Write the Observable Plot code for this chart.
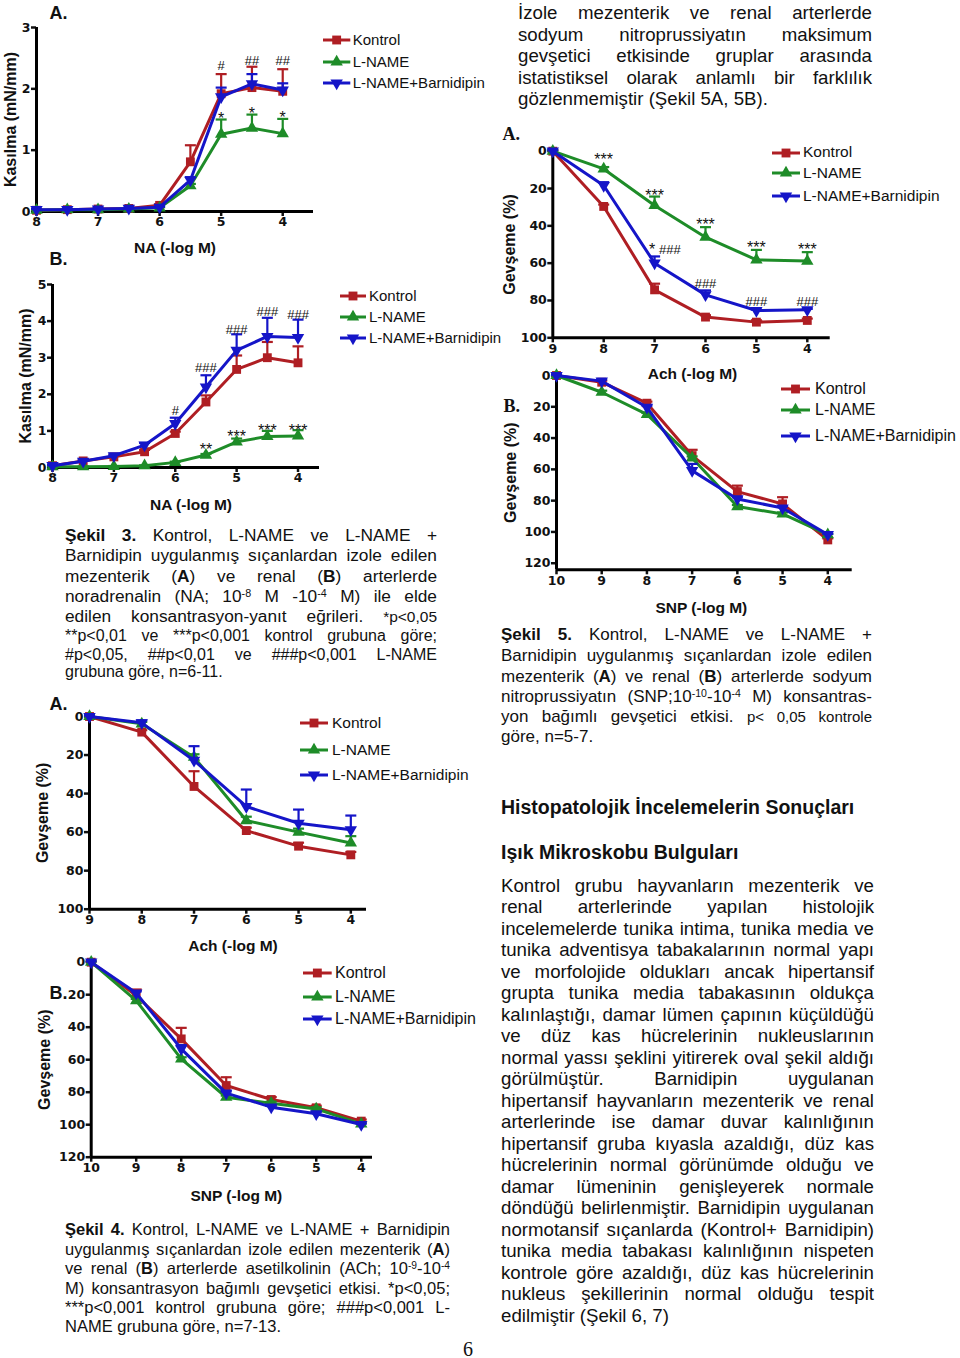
<!DOCTYPE html>
<html><head><meta charset="utf-8">
<script src="https://cdn.jsdelivr.net/npm/d3@7"></script>
<script src="https://cdn.jsdelivr.net/npm/@observablehq/plot@0.6"></script>
<style>
html,body{margin:0;padding:0;background:#fff;}
body{width:960px;height:1358px;position:relative;overflow:hidden;font-family:"Liberation Sans",Arial,sans-serif;color:#111;}
.ln{position:absolute;white-space:nowrap;}
sup{font-size:0.62em;vertical-align:0.5em;line-height:0;}
svg{overflow:visible;}
</style></head><body>
<script>
// ---------- data ----------
const SERIES = ["Kontrol", "L-NAME", "L-NAME+Barnidipin"];
const COLORS = ["#AF1E23", "#1E8C28", "#1515C8"];
const SYMBOLS = ["square", "triangle", "triangle"];
const ROTATE = [0, 0, 180];

const naDoses = [8, 7.5, 7, 6.5, 6, 5.5, 5, 4.5, 4];
const achDoses = [9, 8, 7, 6, 5, 4];
const snpDoses = [10, 9, 8, 7, 6, 5, 4];

// Fig 3A - mesenteric, NA contraction (mN/mm)
const f3aKontrol = [0.02, 0.03, 0.04, 0.05, 0.10, 0.81, 1.92, 2.02, 1.96];
const f3aKontrolSem = [0.01, 0.01, 0.01, 0.01, 0.02, 0.27, 0.32, 0.34, 0.36];
const f3aLname = [0.02, 0.03, 0.03, 0.04, 0.06, 0.42, 1.26, 1.36, 1.27];
const f3aLnameSem = [0.01, 0.01, 0.01, 0.01, 0.01, 0.03, 0.24, 0.22, 0.24];
const f3aBarn = [0.03, 0.03, 0.04, 0.05, 0.07, 0.51, 1.87, 2.08, 1.98];
const f3aBarnSem = [0.01, 0.01, 0.01, 0.01, 0.01, 0.05, 0.15, 0.16, 0.11];
const f3aSig = [
  {x: 5, y: 2.38, label: "#"}, {x: 4.5, y: 2.46, label: "##"}, {x: 4, y: 2.46, label: "##"},
  {x: 5, y: 1.51, label: "*"}, {x: 4.5, y: 1.59, label: "*"}, {x: 4, y: 1.52, label: "*"}
];

// Fig 3B - renal, NA contraction (mN/mm)
const f3bKontrol = [0.05, 0.18, 0.29, 0.43, 0.93, 1.79, 2.68, 3.00, 2.86];
const f3bKontrolSem = [0.02, 0.03, 0.04, 0.05, 0.05, 0.18, 0.38, 0.43, 0.45];
const f3bLname = [0.02, 0.02, 0.03, 0.05, 0.14, 0.34, 0.70, 0.85, 0.86];
const f3bLnameSem = [0.01, 0.01, 0.01, 0.01, 0.02, 0.03, 0.09, 0.15, 0.16];
const f3bBarn = [0.05, 0.17, 0.32, 0.61, 1.20, 2.20, 3.20, 3.58, 3.55];
const f3bBarnSem = [0.01, 0.02, 0.03, 0.06, 0.16, 0.32, 0.44, 0.51, 0.49];
const f3bSig = [
  {x: 6, y: 1.56, label: "#"}, {x: 5.5, y: 2.73, label: "###"}, {x: 5, y: 3.76, label: "###"},
  {x: 4.5, y: 4.24, label: "###"}, {x: 4, y: 4.18, label: "###"},
  {x: 5.5, y: 0.47, label: "**"}, {x: 5, y: 0.83, label: "***"}, {x: 4.5, y: 1.01, label: "***"}, {x: 4, y: 1.01, label: "***"}
];

// Fig 4A - mesenteric, ACh relaxation (%)
const f4aKontrol = [0, 8.1, 36.3, 59.2, 67.3, 71.8];
const f4aKontrolSem = [0.5, 1.0, 7.9, 1.5, 1.8, 1.5];
const f4aLname = [0, 3.8, 21.1, 54.0, 60.0, 65.6];
const f4aLnameSem = [0.5, 1.0, 1.5, 2.0, 1.8, 3.5];
const f4aBarn = [0, 3.3, 22.8, 46.7, 55.4, 58.8];
const f4aBarnSem = [0.5, 1.3, 7.4, 8.8, 7.1, 7.4];

// Fig 4B - renal relaxation (%)
const f4bKontrol = [0, 20.5, 47.2, 75.9, 84.5, 89.6, 97.8];
const f4bKontrolSem = [0.5, 3.7, 6.8, 5.1, 1.5, 1.3, 1.0];
const f4bLname = [0, 23.6, 59.5, 83.1, 86.8, 90.3, 99.5];
const f4bLnameSem = [0.5, 1.0, 1.0, 1.0, 1.0, 1.0, 0.5];
const f4bBarn = [0, 19.0, 53.3, 80.6, 89.2, 93.3, 99.9];
const f4bBarnSem = [0.5, 1.0, 2.3, 1.0, 1.0, 1.0, 0.5];

// Fig 5A - mesenteric relaxation (%)
const f5aKontrol = [0, 29.6, 74.3, 88.9, 91.6, 90.7];
const f5aKontrolSem = [0.5, 1.0, 3.3, 1.0, 1.0, 1.0];
const f5aLname = [0, 9.5, 29.1, 46.1, 58.2, 58.9];
const f5aLnameSem = [0.5, 1.0, 4.8, 5.4, 5.3, 4.8];
const f5aBarn = [0, 18.4, 60.0, 77.0, 85.4, 85.0];
const f5aBarnSem = [0.5, 1.8, 3.6, 2.4, 0.5, 0.5];
const f5aSig = [
  {x: 8, y: 4.7, label: "***"}, {x: 7, y: 23.8, label: "***"}, {x: 6, y: 39.5, label: "***"},
  {x: 5, y: 51.9, label: "***"}, {x: 4, y: 52.9, label: "***"},
  {x: 7.05, y: 52.9, label: "*"}, {x: 6.70, y: 53.1, label: "###"},
  {x: 6, y: 71.0, label: "###"}, {x: 5, y: 80.9, label: "###"}, {x: 4, y: 80.9, label: "###"}
];

// Fig 5B - renal, SNP relaxation (%)
const f5bKontrol = [0, 4.3, 17.7, 51.2, 74.2, 82.1, 105.1];
const f5bKontrolSem = [0.5, 1.0, 1.0, 3.7, 3.8, 4.3, 1.0];
const f5bLname = [0, 10.7, 24.9, 52.7, 83.8, 88.5, 101.7];
const f5bLnameSem = [0.5, 1.0, 1.0, 1.0, 1.0, 1.0, 0.5];
const f5bBarn = [0, 3.6, 20.3, 60.8, 78.9, 84.7, 101.7];
const f5bBarnSem = [0.5, 1.0, 1.0, 4.3, 1.0, 1.0, 0.5];

const naTicks = [8, 7, 6, 5, 4];
const achTicks = [9, 8, 7, 6, 5, 4];
const snpTicks = [10, 9, 8, 7, 6, 5, 4];

// ---------- helpers ----------
const capSymbol = {draw(ctx, size) { const r = Math.sqrt(size / Math.PI); ctx.moveTo(-r, 0); ctx.lineTo(r, 0); }};
const LAB = "Liberation Sans";

function makeChart(c) {
  const dir = c.relax ? -1 : 1;
  const baseY = c.relax ? c.yDomain[1] : c.yDomain[0];
  const marks = [
    Plot.axisY({ticks: c.yTicks, tickSize: 5, tickPadding: 1, tickFormat: d => String(d), label: null, strokeWidth: 2.5}),
    Plot.axisX({ticks: c.xTicks, tickSize: 5, tickPadding: 1, tickFormat: d => String(d), label: null, strokeWidth: 2.5}),
    Plot.ruleX([c.xDomain[0]], {stroke: "#000", strokeWidth: 3}),
    Plot.ruleY([baseY], {stroke: "#000", strokeWidth: 3})
  ];
  c.series.forEach((s, k) => {
    const d = c.doses.map((x, i) => ({x, y: s.mean[i], e: s.sem[i]}));
    const color = COLORS[k];
    marks.push(
      Plot.line(d, {x: "x", y: "y", stroke: color, strokeWidth: 3}),
      Plot.ruleX(d, {x: "x", y1: "y", y2: r => r.y + dir * r.e, stroke: color, strokeWidth: 2.2}),
      Plot.dot(d, {x: "x", y: r => r.y + dir * r.e, symbol: capSymbol, r: 5.5, stroke: color, strokeWidth: 2.2, fill: "none"}),
      Plot.dot(d, {x: "x", y: "y", symbol: SYMBOLS[k], rotate: ROTATE[k], r: k === 0 ? 5 : 4.6, fill: color, stroke: "none"})
    );
  });
  if (c.sig) {
    marks.push(
      Plot.text(c.sig.filter(d => d.label.includes("#")), {x: "x", y: "y", text: "label", fill: "#111", fontSize: 13, fontWeight: "normal", fontFamily: LAB}),
      Plot.text(c.sig.filter(d => d.label.includes("*")), {x: "x", y: "y", text: "label", fill: "#111", fontSize: 16, fontWeight: "normal", fontFamily: LAB})
    );
  }
  marks.push(
    Plot.text([c.yLabel], {text: d => d, frameAnchor: "left", dx: c.yLabelDx, rotate: -90, textAnchor: "middle", lineAnchor: "middle", fontSize: 16, fontWeight: "bold", fontFamily: LAB, fill: "#111"}),
    Plot.text([c.xLabel], {text: d => d, frameAnchor: "bottom", dx: c.xLabelDx, dy: c.xLabelDy, textAnchor: "middle", lineAnchor: "middle", fontSize: 15.5, fontWeight: "bold", fontFamily: LAB, fill: "#111"}),
    Plot.text([c.panel], {text: d => d, frameAnchor: "top-left", dx: c.panelDx, dy: c.panelDy, textAnchor: "start", lineAnchor: "middle", fontSize: 18, fontWeight: "bold", fontFamily: c.panelFont || LAB, fill: "#111"})
  );
  const b = c.box, f = c.frame;
  const svg = Plot.plot({
    width: b.w, height: b.h,
    marginLeft: f.x0 - b.x, marginRight: b.x + b.w - f.x1,
    marginTop: f.y0 - b.y, marginBottom: b.y + b.h - f.y1,
    x: {domain: c.xDomain},
    y: {domain: c.yDomain, reverse: !!c.relax},
    style: {fontFamily: "DejaVu Sans", fontSize: "12.5px", fontWeight: "bold", background: "transparent", color: "#111", overflow: "visible"},
    marks
  });
  svg.style.position = "absolute";
  svg.style.left = b.x + "px";
  svg.style.top = b.y + "px";
  document.body.appendChild(svg);
}

function makeLegend(l) {
  SERIES.forEach((name, k) => {
    const y = l.ys[k];
    const w = l.x1 - l.x0;
    const s = d3.create("svg").attr("width", w + 10).attr("height", 16)
      .style("position", "absolute").style("left", (l.x0 - 5) + "px").style("top", (y - 8) + "px");
    s.append("line").attr("x1", 5).attr("x2", 5 + w).attr("y1", 8).attr("y2", 8)
      .attr("stroke", COLORS[k]).attr("stroke-width", 3);
    const sym = k === 0 ? d3.symbolSquare : d3.symbolTriangle;
    const r = k === 0 ? 5 : 4.6;
    s.append("path").attr("d", d3.symbol(sym, Math.PI * r * r)())
      .attr("transform", `translate(${5 + w / 2},8) rotate(${ROTATE[k]})`).attr("fill", COLORS[k]);
    document.body.appendChild(s.node());
    const t = document.createElement("div");
    t.className = "ln";
    t.textContent = name;
    t.style.left = l.tx + "px";
    t.style.fontSize = l.fs + "px";
    t.style.lineHeight = (l.fs * 1.2) + "px";
    t.style.top = (y - l.fs * 0.6) + "px";
    t.style.color = "#111";
    document.body.appendChild(t);
  });
}

function textBlock(lines, x, width, ys, fs, opts = {}) {
  lines.forEach((html, i) => {
    const el = document.createElement("div");
    el.className = "ln";
    el.innerHTML = html;
    el.style.left = x + "px";
    el.style.fontSize = fs + "px";
    el.style.lineHeight = (fs * 1.2) + "px";
    el.style.top = (ys[i] - fs * 0.6) + "px";
    if (opts.bold) el.style.fontWeight = "bold";
    document.body.appendChild(el);
    const justifyThis = opts.justify !== false && (i < lines.length - 1 || opts.last);
    if (justifyThis) {
      const w = el.getBoundingClientRect().width;
      const n = (el.textContent.trim().match(/\s+/g) || []).length;
      if (n > 0) el.style.wordSpacing = ((width - w) / n) + "px";
    }
  });
}

// ---------- charts ----------
const sets = (a, as, b, bs, c, cs) => [{mean: a, sem: as}, {mean: b, sem: bs}, {mean: c, sem: cs}];

makeChart({box: {x: 0, y: 0, w: 320, h: 262}, frame: {x0: 36, x1: 313, y0: 27, y1: 211},
  xDomain: [8, 3.5], yDomain: [0, 3], xTicks: naTicks, yTicks: [0, 1, 2, 3], doses: naDoses,
  series: sets(f3aKontrol, f3aKontrolSem, f3aLname, f3aLnameSem, f3aBarn, f3aBarnSem), sig: f3aSig,
  yLabel: "Kasılma (mN/mm)", yLabelDx: -26, xLabel: "NA (-log M)", xLabelDx: 0, xLabelDy: 37,
  panel: "A.", panelDx: 13, panelDy: -14});

makeChart({box: {x: 0, y: 258, w: 330, h: 262}, frame: {x0: 52, x1: 319, y0: 284, y1: 467},
  xDomain: [8, 3.65], yDomain: [0, 5], xTicks: naTicks, yTicks: [0, 1, 2, 3, 4, 5], doses: naDoses,
  series: sets(f3bKontrol, f3bKontrolSem, f3bLname, f3bLnameSem, f3bBarn, f3bBarnSem), sig: f3bSig,
  yLabel: "Kasılma (mN/mm)", yLabelDx: -27, xLabel: "NA (-log M)", xLabelDx: 5, xLabelDy: 38,
  panel: "B.", panelDx: -3, panelDy: -25});

makeChart({box: {x: 30, y: 690, w: 345, h: 270}, frame: {x0: 89, x1: 366, y0: 716, y1: 908.7}, relax: true,
  xDomain: [9, 3.7], yDomain: [0, 100], xTicks: achTicks, yTicks: [0, 20, 40, 60, 80, 100], doses: achDoses,
  series: sets(f4aKontrol, f4aKontrolSem, f4aLname, f4aLnameSem, f4aBarn, f4aBarnSem),
  yLabel: "Gevşeme (%)", yLabelDx: -47, xLabel: "Ach (-log M)", xLabelDx: 5, xLabelDy: 37.3,
  panel: "A.", panelDx: -40, panelDy: -12});

makeChart({box: {x: 30, y: 950, w: 350, h: 262}, frame: {x0: 90.7, x1: 372, y0: 961.7, y1: 1156.7}, relax: true,
  xDomain: [10, 3.75], yDomain: [0, 120], xTicks: snpTicks, yTicks: [0, 20, 40, 60, 80, 100, 120], doses: snpDoses,
  series: sets(f4bKontrol, f4bKontrolSem, f4bLname, f4bLnameSem, f4bBarn, f4bBarnSem),
  yLabel: "Gevşeme (%)", yLabelDx: -46, xLabel: "SNP (-log M)", xLabelDx: 4.5, xLabelDy: 39,
  panel: "B.", panelDx: -41.7, panelDy: 31.3});

makeChart({box: {x: 495, y: 118, w: 345, h: 268}, frame: {x0: 552.3, x1: 829.7, y0: 150.7, y1: 337.3}, relax: true,
  xDomain: [9, 3.55], yDomain: [0, 100], xTicks: achTicks, yTicks: [0, 20, 40, 60, 80, 100], doses: achDoses,
  series: sets(f5aKontrol, f5aKontrolSem, f5aLname, f5aLnameSem, f5aBarn, f5aBarnSem), sig: f5aSig,
  yLabel: "Gevşeme (%)", yLabelDx: -43, xLabel: "Ach (-log M)", xLabelDx: 1, xLabelDy: 36.7,
  panel: "A.", panelDx: -50.3, panelDy: -16.7, panelFont: "Liberation Serif"});

makeChart({box: {x: 495, y: 362, w: 362, h: 262}, frame: {x0: 556, x1: 851.7, y0: 375, y1: 569.3}, relax: true,
  xDomain: [10, 3.46], yDomain: [0, 124.2], xTicks: snpTicks, yTicks: [0, 20, 40, 60, 80, 100, 120], doses: snpDoses,
  series: sets(f5bKontrol, f5bKontrolSem, f5bLname, f5bLnameSem, f5bBarn, f5bBarnSem),
  yLabel: "Gevşeme (%)", yLabelDx: -46, xLabel: "SNP (-log M)", xLabelDx: -3, xLabelDy: 38.7,
  panel: "B.", panelDx: -53, panelDy: 30.5, panelFont: "Liberation Serif"});

// ---------- legends ----------
makeLegend({x0: 322.7, x1: 350, tx: 352.7, ys: [40, 61.7, 82.7], fs: 15});
makeLegend({x0: 340, x1: 366, tx: 369, ys: [296, 317, 338], fs: 15});
makeLegend({x0: 300, x1: 328, tx: 332, ys: [723, 750, 775], fs: 15.5});
makeLegend({x0: 303, x1: 331.7, tx: 335, ys: [973, 996.7, 1019], fs: 16});
makeLegend({x0: 772, x1: 800, tx: 803, ys: [152.7, 173, 196], fs: 15.5});
makeLegend({x0: 781, x1: 810, tx: 815, ys: [389, 410, 436], fs: 16});

// ---------- text ----------
const topPara = [
  "İzole mezenterik ve renal arterlerde",
  "sodyum nitroprussiyatın maksimum",
  "gevşetici etkisinde gruplar arasında",
  "istatistiksel olarak anlamlı bir farklılık",
  "gözlenmemiştir (Şekil 5A, 5B)."
];
textBlock(topPara, 518, 354, [13.3, 34.8, 56.3, 77.8, 99.3], 18.67);

const cap3 = [
  "<b>Şekil 3.</b> Kontrol, L-NAME ve L-NAME +",
  "Barnidipin uygulanmış sıçanlardan izole edilen",
  "mezenterik (<b>A</b>) ve renal (<b>B</b>) arterlerde",
  "noradrenalin (NA; 10<sup>-8</sup> M -10<sup>-4</sup> M) ile elde",
  "edilen konsantrasyon-yanıt eğrileri. <span style='font-size:15.5px'>*p&lt;0,05</span>"
];
textBlock(cap3, 65, 372, [535, 555.5, 576, 596.5, 616.5], 17.3, {last: true});
const cap3b = [
  "**p&lt;0,01 ve ***p&lt;0,001 kontrol grubuna göre;",
  "#p&lt;0,05, ##p&lt;0,01 ve ###p&lt;0,001 L-NAME",
  "grubuna göre, n=6-11."
];
textBlock(cap3b, 65, 372, [636, 654.5, 672], 16);

const cap4 = [
  "<b>Şekil 4.</b> Kontrol, L-NAME ve L-NAME + Barnidipin",
  "uygulanmış sıçanlardan izole edilen mezenterik (<b>A</b>)",
  "ve renal (<b>B</b>) arterlerde asetilkolinin (ACh; 10<sup>-9</sup>-10<sup>-4</sup>",
  "M) konsantrasyon bağımlı gevşetici etkisi. *p&lt;0,05;",
  "***p&lt;0,001 kontrol grubuna göre; ###p&lt;0,001 L-",
  "NAME grubuna göre, n=7-13."
];
textBlock(cap4, 65, 385, [1230, 1249.5, 1269.3, 1289, 1308.3, 1326.7], 16.5);

const cap5 = [
  "<b>Şekil 5.</b> Kontrol, L-NAME ve L-NAME +",
  "Barnidipin uygulanmış sıçanlardan izole edilen",
  "mezenterik (<b>A</b>) ve renal (<b>B</b>) arterlerde sodyum",
  "nitroprussiyatın (SNP;10<sup>-10</sup>-10<sup>-4</sup> M) konsantras-",
  "yon bağımlı gevşetici etkisi. <span style='font-size:15px'>p&lt; 0,05 kontrole</span>",
  "göre, n=5-7."
];
textBlock(cap5, 501, 371, [635.5, 656, 676.7, 697.3, 717.3, 736.7], 17);

textBlock(["Histopatolojik İncelemelerin Sonuçları"], 501, 360, [808], 19.5, {bold: true, justify: false});
textBlock(["Işık Mikroskobu Bulguları"], 501, 360, [853], 19.5, {bold: true, justify: false});

const histPara = [
  "Kontrol grubu hayvanların mezenterik ve",
  "renal arterlerinde yapılan histolojik",
  "incelemelerde tunika intima, tunika media ve",
  "tunika adventisya tabakalarının normal yapı",
  "ve morfolojide oldukları ancak hipertansif",
  "grupta tunika media tabakasının oldukça",
  "kalınlaştığı, damar lümen çapının küçüldüğü",
  "ve düz kas hücrelerinin nukleuslarının",
  "normal yassı şeklini yitirerek oval şekil aldığı",
  "görülmüştür. Barnidipin uygulanan",
  "hipertansif hayvanların mezenterik ve renal",
  "arterlerinde ise damar duvar kalınlığının",
  "hipertansif gruba kıyasla azaldığı, düz kas",
  "hücrelerinin normal görünümde olduğu ve",
  "damar lümeninin genişleyerek normale",
  "döndüğü belirlenmiştir. Barnidipin uygulanan",
  "normotansif sıçanlarda (Kontrol+ Barnidipin)",
  "tunika media tabakası kalınlığının nispeten",
  "kontrole göre azaldığı, düz kas hücrelerinin",
  "nukleus şekillerinin normal olduğu tespit",
  "edilmiştir (Şekil 6, 7)"
];
textBlock(histPara, 501, 373, histPara.map((_, i) => 886 + i * 21.5), 18.67);

// page number
const pn = document.createElement("div");
pn.className = "ln";
pn.textContent = "6";
pn.style.cssText += "left:463px;top:1337px;font-family:'Liberation Serif',serif;font-size:20px;line-height:24px;";
document.body.appendChild(pn);
</script>
</body></html>
